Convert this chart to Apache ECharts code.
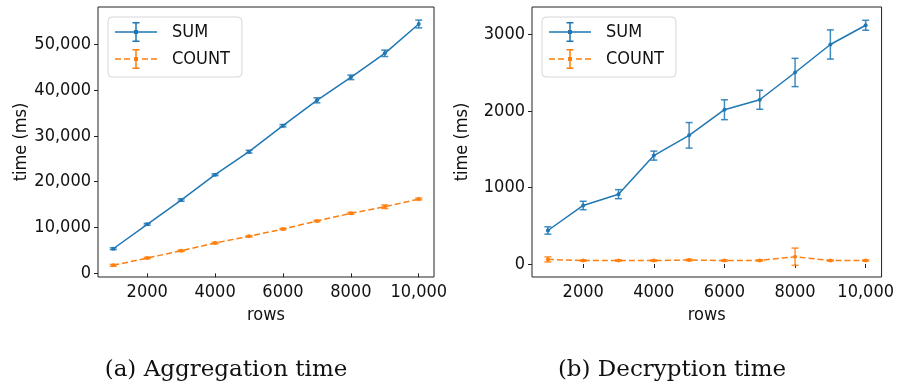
<!DOCTYPE html>
<html>
<head>
<meta charset="utf-8">
<script src="https://cdn.jsdelivr.net/npm/echarts@6/dist/echarts.min.js"></script>
<style>
  html, body { margin: 0; padding: 0; background: #fff; }
  #main { width: 897px; height: 386px; }
</style>
</head>
<body>
<div id="main"></div>
<script>
// rows on the x axis
var rows = [1000, 2000, 3000, 4000, 5000, 6000, 7000, 8000, 9000, 10000];

// (a) aggregation time, ms
var aggSum = [5370, 10700, 16000, 21530, 26550, 32230, 37770, 42790, 48030, 54430];
var aggSumErr = [200, 200, 250, 200, 300, 250, 550, 500, 700, 850];
var aggCount = [1750, 3340, 4930, 6620, 8080, 9670, 11420, 13100, 14540, 16220];
var aggCountErr = [200, 150, 150, 150, 150, 150, 150, 200, 400, 200];

// (b) decryption time, ms
var decSum = [438, 765, 913, 1417, 1682, 2017, 2147, 2504, 2870, 3121];
var decSumErr = [48, 55, 59, 59, 167, 130, 124, 185, 191, 65];
var decCount = [60, 45, 45, 45, 52, 45, 47, 95, 45, 45];
var decCountErr = [33, 8, 8, 8, 10, 8, 8, 113, 8, 8];

// tick labels
var xTicks = [2000, 4000, 6000, 8000, 10000];
var aggTicks = [0, 10000, 20000, 30000, 40000, 50000];
var decTicks = [0, 1000, 2000, 3000];

var captions = ['(a) Aggregation time', '(b) Decryption time'];

var BLUE = '#1f77b4';
var ORANGE = '#ff7f0e';
var FONT = '"DejaVu Sans Condensed", "DejaVu Sans", sans-serif';
var SERIF = '"DejaVu Serif", "Liberation Serif", serif';

var myChart = echarts.init(document.getElementById('main'));

function fmt(v) {
  // matplotlib-ish: comma only from 10,000 up
  return v >= 10000 ? v.toLocaleString('en-US') : String(v);
}

function zip(a, b) {
  return rows.map(function (r, i) { return [r, a[i], b ? b[i] : 0]; });
}

// legend glyph: line + error bar with caps
var sumIcon = 'path://M0,9.25L42,9.25L42,10.75L0,10.75Z' +
  'M20.25,0L21.75,0L21.75,20L20.25,20Z' +
  'M17.5,0L24.5,0L24.5,1.5L17.5,1.5Z M17.5,18.5L24.5,18.5L24.5,20L17.5,20Z' +
  'M19,8L23,8L23,12L19,12Z';
var countIcon = 'path://M0,9.25L6,9.25L6,10.75L0,10.75Z M9,9.25L15,9.25L15,10.75L9,10.75Z' +
  'M27,9.25L33,9.25L33,10.75L27,10.75Z M36,9.25L42,9.25L42,10.75L36,10.75Z' +
  'M20.25,0L21.75,0L21.75,20L20.25,20Z' +
  'M17.5,0L24.5,0L24.5,1.5L17.5,1.5Z M17.5,18.5L24.5,18.5L24.5,20L17.5,20Z' +
  'M19,8L23,8L23,12L19,12Z';

function errorRender(color) {
  return function (params, api) {
    var x = api.value(0), y = api.value(1), e = api.value(2);
    var lo = api.coord([x, y - e]);
    var hi = api.coord([x, y + e]);
    var cw = 3.5;
    var style = { stroke: color, lineWidth: 1.5, opacity: 0.85 };
    return {
      type: 'group',
      children: [
        { type: 'line', shape: { x1: lo[0], y1: lo[1], x2: hi[0], y2: hi[1] }, style: style },
        { type: 'line', shape: { x1: lo[0] - cw, y1: lo[1], x2: lo[0] + cw, y2: lo[1] }, style: style },
        { type: 'line', shape: { x1: hi[0] - cw, y1: hi[1], x2: hi[0] + cw, y2: hi[1] }, style: style }
      ]
    };
  };
}

function xAxis(gridIndex) {
  return {
    type: 'value', gridIndex: gridIndex, min: 550, max: 10450,
    name: 'rows', nameLocation: 'middle', nameGap: 24,
    nameTextStyle: { fontFamily: FONT, fontSize: 18, color: '#111' },
    axisLine: { show: false },
    axisTick: { show: true, length: 4, customValues: xTicks, lineStyle: { color: '#222', width: 1 } },
    axisLabel: { customValues: xTicks, formatter: fmt, margin: 6, fontFamily: FONT, fontSize: 18, color: '#111' },
    splitLine: { show: false }
  };
}

function yAxis(gridIndex, min, max, ticks, gap) {
  return {
    type: 'value', gridIndex: gridIndex, min: min, max: max,
    name: 'time (ms)', nameLocation: 'middle', nameGap: gap,
    nameTextStyle: { fontFamily: FONT, fontSize: 18, color: '#111' },
    axisLine: { show: false },
    axisTick: { show: true, length: 4, customValues: ticks, lineStyle: { color: '#222', width: 1 } },
    axisLabel: { customValues: ticks, formatter: fmt, margin: 7, fontFamily: FONT, fontSize: 18, color: '#111' },
    splitLine: { show: false }
  };
}

function legend(left) {
  return {
    left: left, top: 17, orient: 'vertical',
    padding: [5, 12, 8, 7], itemGap: 7, itemWidth: 42, itemHeight: 20,
    borderColor: '#d6d6d6', borderWidth: 1, borderRadius: 4, backgroundColor: '#fff',
    selectedMode: false,
    textStyle: { fontFamily: FONT, fontSize: 18, color: '#111', padding: [0, 0, 0, 10], lineHeight: 20 },
    data: [{ name: 'SUM', icon: sumIcon }, { name: 'COUNT', icon: countIcon }]
  };
}

function lineSeries(name, idx, values, color, dashed) {
  return {
    name: name, type: 'line', xAxisIndex: idx, yAxisIndex: idx,
    data: zip(values), symbol: 'circle', symbolSize: 4, showSymbol: true,
    itemStyle: { color: color },
    lineStyle: { color: color, width: 1.5, type: dashed ? [6, 3] : 'solid' },
    animation: false, z: 3
  };
}

function errSeries(name, idx, values, errs, color) {
  return {
    name: name, type: 'custom', xAxisIndex: idx, yAxisIndex: idx,
    data: zip(values, errs), renderItem: errorRender(color),
    encode: { x: 0, y: 1 }, itemStyle: { color: color },
    animation: false, z: 2
  };
}

var captionStyle = { fontFamily: SERIF, fontSize: 23, fontWeight: 'normal', color: '#111' };

var option = {
  backgroundColor: '#fff',
  animation: false,
  title: [
    { text: captions[0], left: 226, top: 359, padding: 0, textAlign: 'center', textStyle: captionStyle },
    { text: captions[1], left: 672, top: 359, padding: 0, textAlign: 'center', textStyle: captionStyle }
  ],
  legend: [legend(108), legend(542)],
  grid: [
    { left: 98, top: 7, width: 336, height: 270, show: true, borderColor: '#222', borderWidth: 1 },
    { left: 532, top: 7, width: 351, height: 270, show: true, borderColor: '#222', borderWidth: 1 }
  ],
  xAxis: [xAxis(0), xAxis(1)],
  yAxis: [yAxis(0, -800, 58140, aggTicks, 68), yAxis(1, -170, 3360, decTicks, 61)],
  series: [
    lineSeries('SUM', 0, aggSum, BLUE, false),
    errSeries('SUM', 0, aggSum, aggSumErr, BLUE),
    lineSeries('COUNT', 0, aggCount, ORANGE, true),
    errSeries('COUNT', 0, aggCount, aggCountErr, ORANGE),
    lineSeries('SUM', 1, decSum, BLUE, false),
    errSeries('SUM', 1, decSum, decSumErr, BLUE),
    lineSeries('COUNT', 1, decCount, ORANGE, true),
    errSeries('COUNT', 1, decCount, decCountErr, ORANGE)
  ]
};

myChart.setOption(option);
</script>
</body>
</html>
